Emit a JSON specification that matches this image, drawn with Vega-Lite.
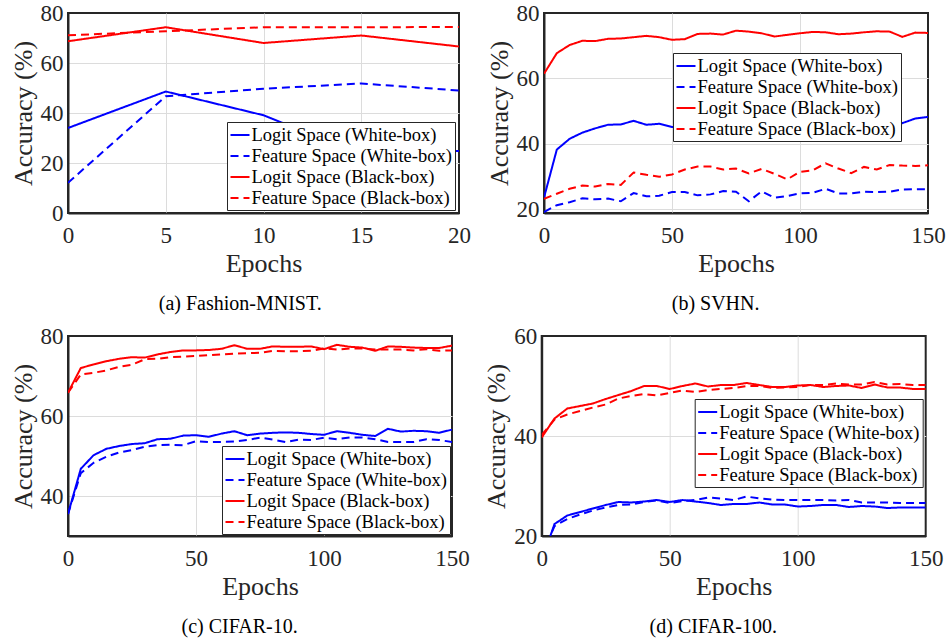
{
  "$schema": "https://vega.github.io/schema/vega-lite/v6.json",
  "background": "white",
  "padding": {"left": 9, "top": 1, "right": 0, "bottom": 0},
  "config": {
    "font": "'Liberation Serif', 'Times New Roman', Times, serif",
    "view": {"stroke": "#262626", "strokeWidth": 2},
    "axis": {
      "labelFont": "'Liberation Serif', 'Times New Roman', Times, serif", "titleFont": "'Liberation Serif', 'Times New Roman', Times, serif",
      "labelFontSize": 23, "titleFontSize": 26, "titleFontWeight": "normal",
      "labelColor": "#262626", "titleColor": "#262626",
      "ticks": false, "tickSize": 0, "domain": true, "domainColor": "#262626", "domainWidth": 2,
      "grid": true, "gridColor": "#dcdcdc", "gridWidth": 1,
      "labelFlush": false, "labelOverlap": false, "labelBound": false
    },
    "axisX": {"labelPadding": 11, "titlePadding": 3},
    "axisY": {"labelPadding": 5, "titlePadding": 4},
    "legend": {
      "orient": "none", "labelFont": "'Liberation Serif', 'Times New Roman', Times, serif", "labelFontSize": 18.5,
      "labelColor": "#000000", "labelLimit": 400, "symbolType": "stroke",
      "symbolSize": 361, "symbolStrokeWidth": 2, "strokeColor": "#262626",
      "strokeWidth": 1, "fillColor": "white", "padding": 2.5, "rowPadding": 1,
      "labelOffset": 1
    },
    "title": {"font": "'Liberation Serif', 'Times New Roman', Times, serif", "fontSize": 20, "fontWeight": "normal", "color": "#000000", "orient": "bottom", "anchor": "middle", "frame": "bounds", "offset": 18}
  },
  "datasets": {
    "a": [
      {"e":0,"v":34,"s":"LW"},{"e":5,"v":48.6,"s":"LW"},{"e":10,"v":39.1,"s":"LW"},{"e":15,"v":23.5,"s":"LW"},{"e":20,"v":24.8,"s":"LW"},
      {"e":0,"v":12.1,"s":"FW"},{"e":5,"v":46.7,"s":"FW"},{"e":10,"v":49.7,"s":"FW"},{"e":15,"v":51.8,"s":"FW"},{"e":20,"v":49,"s":"FW"},
      {"e":0,"v":68.7,"s":"LB"},{"e":5,"v":74.3,"s":"LB"},{"e":10,"v":68,"s":"LB"},{"e":15,"v":71,"s":"LB"},{"e":20,"v":66.6,"s":"LB"},
      {"e":0,"v":71.1,"s":"FB"},{"e":5,"v":72.7,"s":"FB"},{"e":10,"v":74.3,"s":"FB"},{"e":15,"v":74.3,"s":"FB"},{"e":20,"v":74.4,"s":"FB"}
    ],
    "b": [
      {"e":0,"v":23.5,"s":"LW"},{"e":5,"v":38.2,"s":"LW"},{"e":10,"v":41.5,"s":"LW"},{"e":15,"v":43.4,"s":"LW"},{"e":20,"v":44.7,"s":"LW"},{"e":25,"v":45.8,"s":"LW"},{"e":30,"v":45.9,"s":"LW"},{"e":35,"v":47,"s":"LW"},{"e":40,"v":45.8,"s":"LW"},{"e":45,"v":46.1,"s":"LW"},{"e":50,"v":45.1,"s":"LW"},{"e":55,"v":45.5,"s":"LW"},{"e":60,"v":46,"s":"LW"},{"e":65,"v":46.3,"s":"LW"},{"e":70,"v":46.5,"s":"LW"},{"e":75,"v":46.8,"s":"LW"},{"e":80,"v":46.4,"s":"LW"},{"e":85,"v":46.6,"s":"LW"},{"e":90,"v":46.2,"s":"LW"},{"e":95,"v":46.5,"s":"LW"},{"e":100,"v":46.9,"s":"LW"},{"e":105,"v":47,"s":"LW"},{"e":110,"v":46.7,"s":"LW"},{"e":115,"v":46.9,"s":"LW"},{"e":120,"v":47.2,"s":"LW"},{"e":125,"v":47,"s":"LW"},{"e":130,"v":47.3,"s":"LW"},{"e":135,"v":47.5,"s":"LW"},{"e":140,"v":46.3,"s":"LW"},{"e":145,"v":47.7,"s":"LW"},{"e":150,"v":48.2,"s":"LW"},
      {"e":0,"v":19.1,"s":"FW"},{"e":5,"v":21.2,"s":"FW"},{"e":10,"v":22.1,"s":"FW"},{"e":15,"v":23.3,"s":"FW"},{"e":20,"v":23,"s":"FW"},{"e":25,"v":23.2,"s":"FW"},{"e":30,"v":22.4,"s":"FW"},{"e":35,"v":24.9,"s":"FW"},{"e":40,"v":23.9,"s":"FW"},{"e":45,"v":24.1,"s":"FW"},{"e":50,"v":25.2,"s":"FW"},{"e":55,"v":25.2,"s":"FW"},{"e":60,"v":24.2,"s":"FW"},{"e":65,"v":24.5,"s":"FW"},{"e":70,"v":25.5,"s":"FW"},{"e":75,"v":25.3,"s":"FW"},{"e":80,"v":22.4,"s":"FW"},{"e":85,"v":25.4,"s":"FW"},{"e":90,"v":23.5,"s":"FW"},{"e":95,"v":24,"s":"FW"},{"e":100,"v":24.8,"s":"FW"},{"e":105,"v":25,"s":"FW"},{"e":110,"v":26.2,"s":"FW"},{"e":115,"v":24.8,"s":"FW"},{"e":120,"v":24.8,"s":"FW"},{"e":125,"v":25.3,"s":"FW"},{"e":130,"v":25.2,"s":"FW"},{"e":135,"v":25.3,"s":"FW"},{"e":140,"v":26,"s":"FW"},{"e":145,"v":26.1,"s":"FW"},{"e":150,"v":26.1,"s":"FW"},
      {"e":0,"v":61.4,"s":"LB"},{"e":5,"v":67.7,"s":"LB"},{"e":10,"v":70.2,"s":"LB"},{"e":15,"v":71.5,"s":"LB"},{"e":20,"v":71.4,"s":"LB"},{"e":25,"v":72.1,"s":"LB"},{"e":30,"v":72.2,"s":"LB"},{"e":35,"v":72.6,"s":"LB"},{"e":40,"v":73,"s":"LB"},{"e":45,"v":72.6,"s":"LB"},{"e":50,"v":71.8,"s":"LB"},{"e":55,"v":72,"s":"LB"},{"e":60,"v":73.6,"s":"LB"},{"e":65,"v":73.7,"s":"LB"},{"e":70,"v":73.4,"s":"LB"},{"e":75,"v":74.6,"s":"LB"},{"e":80,"v":74.3,"s":"LB"},{"e":85,"v":73.8,"s":"LB"},{"e":90,"v":72.8,"s":"LB"},{"e":95,"v":73.3,"s":"LB"},{"e":100,"v":73.8,"s":"LB"},{"e":105,"v":74.2,"s":"LB"},{"e":110,"v":74.1,"s":"LB"},{"e":115,"v":73.5,"s":"LB"},{"e":120,"v":73.7,"s":"LB"},{"e":125,"v":74.1,"s":"LB"},{"e":130,"v":74.4,"s":"LB"},{"e":135,"v":74.3,"s":"LB"},{"e":140,"v":72.7,"s":"LB"},{"e":145,"v":74,"s":"LB"},{"e":150,"v":73.9,"s":"LB"},
      {"e":0,"v":23.1,"s":"FB"},{"e":5,"v":24.7,"s":"FB"},{"e":10,"v":26.2,"s":"FB"},{"e":15,"v":27.2,"s":"FB"},{"e":20,"v":26.9,"s":"FB"},{"e":25,"v":27.7,"s":"FB"},{"e":30,"v":27.4,"s":"FB"},{"e":35,"v":31.2,"s":"FB"},{"e":40,"v":30.5,"s":"FB"},{"e":45,"v":29.9,"s":"FB"},{"e":50,"v":30.6,"s":"FB"},{"e":55,"v":32.1,"s":"FB"},{"e":60,"v":33,"s":"FB"},{"e":65,"v":33,"s":"FB"},{"e":70,"v":32.1,"s":"FB"},{"e":75,"v":32.4,"s":"FB"},{"e":80,"v":30.9,"s":"FB"},{"e":85,"v":32.3,"s":"FB"},{"e":90,"v":30.8,"s":"FB"},{"e":95,"v":29.1,"s":"FB"},{"e":100,"v":31.4,"s":"FB"},{"e":105,"v":31.9,"s":"FB"},{"e":110,"v":34,"s":"FB"},{"e":115,"v":32.4,"s":"FB"},{"e":120,"v":31,"s":"FB"},{"e":125,"v":32.9,"s":"FB"},{"e":130,"v":32.1,"s":"FB"},{"e":135,"v":33.5,"s":"FB"},{"e":140,"v":33.3,"s":"FB"},{"e":145,"v":33.2,"s":"FB"},{"e":150,"v":33.4,"s":"FB"}
    ],
    "c": [
      {"e":0,"v":35.5,"s":"LW"},{"e":5,"v":46.8,"s":"LW"},{"e":10,"v":50.2,"s":"LW"},{"e":15,"v":51.8,"s":"LW"},{"e":20,"v":52.5,"s":"LW"},{"e":25,"v":53,"s":"LW"},{"e":30,"v":53.2,"s":"LW"},{"e":35,"v":54.2,"s":"LW"},{"e":40,"v":54.3,"s":"LW"},{"e":45,"v":55.1,"s":"LW"},{"e":50,"v":55.2,"s":"LW"},{"e":55,"v":54.8,"s":"LW"},{"e":60,"v":55.6,"s":"LW"},{"e":65,"v":56.2,"s":"LW"},{"e":70,"v":55.2,"s":"LW"},{"e":75,"v":55.6,"s":"LW"},{"e":80,"v":55.8,"s":"LW"},{"e":85,"v":55.9,"s":"LW"},{"e":90,"v":55.8,"s":"LW"},{"e":95,"v":55.5,"s":"LW"},{"e":100,"v":55.3,"s":"LW"},{"e":105,"v":56.2,"s":"LW"},{"e":110,"v":55.8,"s":"LW"},{"e":115,"v":55.3,"s":"LW"},{"e":120,"v":55,"s":"LW"},{"e":125,"v":56.8,"s":"LW"},{"e":130,"v":56.1,"s":"LW"},{"e":135,"v":56.3,"s":"LW"},{"e":140,"v":56.2,"s":"LW"},{"e":145,"v":55.8,"s":"LW"},{"e":150,"v":56.6,"s":"LW"},
      {"e":0,"v":35.5,"s":"FW"},{"e":5,"v":45.7,"s":"FW"},{"e":10,"v":48.3,"s":"FW"},{"e":15,"v":49.8,"s":"FW"},{"e":20,"v":50.9,"s":"FW"},{"e":25,"v":51.5,"s":"FW"},{"e":30,"v":52.3,"s":"FW"},{"e":35,"v":52.7,"s":"FW"},{"e":40,"v":52.8,"s":"FW"},{"e":45,"v":52.7,"s":"FW"},{"e":50,"v":53.7,"s":"FW"},{"e":55,"v":53.5,"s":"FW"},{"e":60,"v":53.5,"s":"FW"},{"e":65,"v":53.6,"s":"FW"},{"e":70,"v":54,"s":"FW"},{"e":75,"v":54.6,"s":"FW"},{"e":80,"v":54.1,"s":"FW"},{"e":85,"v":53.5,"s":"FW"},{"e":90,"v":54.1,"s":"FW"},{"e":95,"v":54,"s":"FW"},{"e":100,"v":54.6,"s":"FW"},{"e":105,"v":54.2,"s":"FW"},{"e":110,"v":54.6,"s":"FW"},{"e":115,"v":54.6,"s":"FW"},{"e":120,"v":54.2,"s":"FW"},{"e":125,"v":53.5,"s":"FW"},{"e":130,"v":53.5,"s":"FW"},{"e":135,"v":53.5,"s":"FW"},{"e":140,"v":54.2,"s":"FW"},{"e":145,"v":54,"s":"FW"},{"e":150,"v":53.5,"s":"FW"},
      {"e":0,"v":65.8,"s":"LB"},{"e":5,"v":72,"s":"LB"},{"e":10,"v":72.9,"s":"LB"},{"e":15,"v":73.7,"s":"LB"},{"e":20,"v":74.3,"s":"LB"},{"e":25,"v":74.7,"s":"LB"},{"e":30,"v":74.6,"s":"LB"},{"e":35,"v":75.4,"s":"LB"},{"e":40,"v":76,"s":"LB"},{"e":45,"v":76.4,"s":"LB"},{"e":50,"v":76.4,"s":"LB"},{"e":55,"v":76.5,"s":"LB"},{"e":60,"v":76.8,"s":"LB"},{"e":65,"v":77.7,"s":"LB"},{"e":70,"v":76.8,"s":"LB"},{"e":75,"v":76.8,"s":"LB"},{"e":80,"v":77.4,"s":"LB"},{"e":85,"v":77.3,"s":"LB"},{"e":90,"v":77.3,"s":"LB"},{"e":95,"v":77.4,"s":"LB"},{"e":100,"v":76.7,"s":"LB"},{"e":105,"v":77.8,"s":"LB"},{"e":110,"v":77.3,"s":"LB"},{"e":115,"v":77.1,"s":"LB"},{"e":120,"v":76.3,"s":"LB"},{"e":125,"v":77.4,"s":"LB"},{"e":130,"v":77.3,"s":"LB"},{"e":135,"v":77.1,"s":"LB"},{"e":140,"v":77,"s":"LB"},{"e":145,"v":77,"s":"LB"},{"e":150,"v":77.6,"s":"LB"},
      {"e":0,"v":65.8,"s":"FB"},{"e":5,"v":70.4,"s":"FB"},{"e":10,"v":70.8,"s":"FB"},{"e":15,"v":71.4,"s":"FB"},{"e":20,"v":72.3,"s":"FB"},{"e":25,"v":72.8,"s":"FB"},{"e":30,"v":74.2,"s":"FB"},{"e":35,"v":74.3,"s":"FB"},{"e":40,"v":74.7,"s":"FB"},{"e":45,"v":74.8,"s":"FB"},{"e":50,"v":75,"s":"FB"},{"e":55,"v":75.2,"s":"FB"},{"e":60,"v":75.4,"s":"FB"},{"e":65,"v":75.6,"s":"FB"},{"e":70,"v":75.7,"s":"FB"},{"e":75,"v":75.8,"s":"FB"},{"e":80,"v":76.3,"s":"FB"},{"e":85,"v":76.2,"s":"FB"},{"e":90,"v":76.2,"s":"FB"},{"e":95,"v":76.3,"s":"FB"},{"e":100,"v":76.9,"s":"FB"},{"e":105,"v":76.6,"s":"FB"},{"e":110,"v":76.9,"s":"FB"},{"e":115,"v":76.9,"s":"FB"},{"e":120,"v":76.6,"s":"FB"},{"e":125,"v":76.6,"s":"FB"},{"e":130,"v":76.6,"s":"FB"},{"e":135,"v":76.4,"s":"FB"},{"e":140,"v":76.7,"s":"FB"},{"e":145,"v":76.3,"s":"FB"},{"e":150,"v":76.4,"s":"FB"}
    ],
    "d": [
      {"e":0,"v":15,"s":"LW"},{"e":5,"v":22.4,"s":"LW"},{"e":10,"v":24.1,"s":"LW"},{"e":15,"v":24.8,"s":"LW"},{"e":20,"v":25.5,"s":"LW"},{"e":25,"v":26.2,"s":"LW"},{"e":30,"v":26.8,"s":"LW"},{"e":35,"v":26.7,"s":"LW"},{"e":40,"v":26.9,"s":"LW"},{"e":45,"v":27.2,"s":"LW"},{"e":50,"v":26.8,"s":"LW"},{"e":55,"v":27.2,"s":"LW"},{"e":60,"v":26.9,"s":"LW"},{"e":65,"v":26.6,"s":"LW"},{"e":70,"v":26.2,"s":"LW"},{"e":75,"v":26.4,"s":"LW"},{"e":80,"v":26.4,"s":"LW"},{"e":85,"v":26.7,"s":"LW"},{"e":90,"v":26.3,"s":"LW"},{"e":95,"v":26.3,"s":"LW"},{"e":100,"v":25.9,"s":"LW"},{"e":105,"v":26,"s":"LW"},{"e":110,"v":26.2,"s":"LW"},{"e":115,"v":26.2,"s":"LW"},{"e":120,"v":25.8,"s":"LW"},{"e":125,"v":26,"s":"LW"},{"e":130,"v":25.9,"s":"LW"},{"e":135,"v":25.6,"s":"LW"},{"e":140,"v":25.7,"s":"LW"},{"e":145,"v":25.7,"s":"LW"},{"e":150,"v":25.7,"s":"LW"},
      {"e":0,"v":16,"s":"FW"},{"e":5,"v":22,"s":"FW"},{"e":10,"v":23.4,"s":"FW"},{"e":15,"v":24.3,"s":"FW"},{"e":20,"v":25.1,"s":"FW"},{"e":25,"v":25.7,"s":"FW"},{"e":30,"v":26.2,"s":"FW"},{"e":35,"v":26.3,"s":"FW"},{"e":40,"v":26.8,"s":"FW"},{"e":45,"v":27.1,"s":"FW"},{"e":50,"v":26.6,"s":"FW"},{"e":55,"v":27,"s":"FW"},{"e":60,"v":27.2,"s":"FW"},{"e":65,"v":27.7,"s":"FW"},{"e":70,"v":27.5,"s":"FW"},{"e":75,"v":27.2,"s":"FW"},{"e":80,"v":27.9,"s":"FW"},{"e":85,"v":27.5,"s":"FW"},{"e":90,"v":27.3,"s":"FW"},{"e":95,"v":27.2,"s":"FW"},{"e":100,"v":27.2,"s":"FW"},{"e":105,"v":27.2,"s":"FW"},{"e":110,"v":27.2,"s":"FW"},{"e":115,"v":27.1,"s":"FW"},{"e":120,"v":27.2,"s":"FW"},{"e":125,"v":26.7,"s":"FW"},{"e":130,"v":26.7,"s":"FW"},{"e":135,"v":26.7,"s":"FW"},{"e":140,"v":26.6,"s":"FW"},{"e":145,"v":26.6,"s":"FW"},{"e":150,"v":26.6,"s":"FW"},
      {"e":0,"v":39.7,"s":"LB"},{"e":5,"v":43.5,"s":"LB"},{"e":10,"v":45.5,"s":"LB"},{"e":15,"v":46,"s":"LB"},{"e":20,"v":46.5,"s":"LB"},{"e":25,"v":47.4,"s":"LB"},{"e":30,"v":48.2,"s":"LB"},{"e":35,"v":49,"s":"LB"},{"e":40,"v":50,"s":"LB"},{"e":45,"v":50,"s":"LB"},{"e":50,"v":49.4,"s":"LB"},{"e":55,"v":50,"s":"LB"},{"e":60,"v":50.5,"s":"LB"},{"e":65,"v":49.9,"s":"LB"},{"e":70,"v":50.2,"s":"LB"},{"e":75,"v":50.2,"s":"LB"},{"e":80,"v":50.6,"s":"LB"},{"e":85,"v":50.2,"s":"LB"},{"e":90,"v":49.8,"s":"LB"},{"e":95,"v":49.8,"s":"LB"},{"e":100,"v":50.1,"s":"LB"},{"e":105,"v":50.2,"s":"LB"},{"e":110,"v":49.8,"s":"LB"},{"e":115,"v":50,"s":"LB"},{"e":120,"v":50.1,"s":"LB"},{"e":125,"v":49.6,"s":"LB"},{"e":130,"v":50.3,"s":"LB"},{"e":135,"v":49.7,"s":"LB"},{"e":140,"v":49.7,"s":"LB"},{"e":145,"v":49.4,"s":"LB"},{"e":150,"v":49.4,"s":"LB"},
      {"e":0,"v":40.2,"s":"FB"},{"e":5,"v":43.3,"s":"FB"},{"e":10,"v":44.3,"s":"FB"},{"e":15,"v":45,"s":"FB"},{"e":20,"v":45.7,"s":"FB"},{"e":25,"v":46.3,"s":"FB"},{"e":30,"v":47.5,"s":"FB"},{"e":35,"v":48,"s":"FB"},{"e":40,"v":48.4,"s":"FB"},{"e":45,"v":48.1,"s":"FB"},{"e":50,"v":48.6,"s":"FB"},{"e":55,"v":49.1,"s":"FB"},{"e":60,"v":48.8,"s":"FB"},{"e":65,"v":49.2,"s":"FB"},{"e":70,"v":49.4,"s":"FB"},{"e":75,"v":49.6,"s":"FB"},{"e":80,"v":50,"s":"FB"},{"e":85,"v":50,"s":"FB"},{"e":90,"v":49.6,"s":"FB"},{"e":95,"v":49.7,"s":"FB"},{"e":100,"v":49.8,"s":"FB"},{"e":105,"v":50.2,"s":"FB"},{"e":110,"v":50.2,"s":"FB"},{"e":115,"v":50.5,"s":"FB"},{"e":120,"v":50.3,"s":"FB"},{"e":125,"v":50.3,"s":"FB"},{"e":130,"v":50.8,"s":"FB"},{"e":135,"v":50.3,"s":"FB"},{"e":140,"v":50.4,"s":"FB"},{"e":145,"v":50.2,"s":"FB"},{"e":150,"v":50.2,"s":"FB"}
    ]
  },
  "spacing": 9,
  "resolve": {"scale": {"x": "independent", "y": "independent", "color": "independent", "strokeDash": "independent"}, "legend": {"color": "independent", "strokeDash": "independent"}, "axis": {"x": "independent", "y": "independent"}},
  "vconcat": [
    {
      "spacing": 13,
      "resolve": {"scale": {"x": "independent", "y": "independent", "color": "independent", "strokeDash": "independent"}, "legend": {"color": "independent", "strokeDash": "independent"}, "axis": {"x": "independent", "y": "independent"}},
      "hconcat": [
        {
          "width": 391, "height": 200,
          "title": {"text": "(a) Fashion-MNIST."},
          "data": {"name": "a"},
          "mark": {"type": "line", "strokeWidth": 2, "clip": true},
          "encoding": {
            "x": {"field": "e", "type": "quantitative", "scale": {"domain": [0, 20], "nice": false, "zero": false}, "axis": {"values": [0, 5, 10, 15, 20], "title": "Epochs", "gridOpacity": {"condition": {"test": "datum.value <= 0 || datum.value >= 20", "value": 0}, "value": 1}}},
            "y": {"field": "v", "type": "quantitative", "scale": {"domain": [0, 80], "nice": false, "zero": false}, "axis": {"values": [0, 20, 40, 60, 80], "title": "Accuracy (%)", "gridOpacity": {"condition": {"test": "datum.value <= 0 || datum.value >= 80", "value": 0}, "value": 1}}},
            "color": {"field": "s", "type": "nominal", "scale": {"domain": ["LW", "FW", "LB", "FB"], "range": ["#0000ff", "#0000ff", "#ff0000", "#ff0000"]}, "legend": {"title": null, "legendX": 159, "legendY": 109, "labelExpr": "{'LW':'Logit Space (White-box)','FW':'Feature Space (White-box)','LB':'Logit Space (Black-box)','FB':'Feature Space (Black-box)'}[datum.label]"}},
            "strokeDash": {"field": "s", "type": "nominal", "scale": {"domain": ["LW", "FW", "LB", "FB"], "range": [[1, 0], [8, 5], [1, 0], [8, 5]]}, "legend": {"title": null, "legendX": 159, "legendY": 109, "labelExpr": "{'LW':'Logit Space (White-box)','FW':'Feature Space (White-box)','LB':'Logit Space (Black-box)','FB':'Feature Space (Black-box)'}[datum.label]"}}
          }
        },
        {
          "width": 384, "height": 200,
          "title": {"text": "(b) SVHN."},
          "data": {"name": "b"},
          "mark": {"type": "line", "strokeWidth": 2, "clip": true},
          "encoding": {
            "x": {"field": "e", "type": "quantitative", "scale": {"domain": [0, 150], "nice": false, "zero": false}, "axis": {"values": [0, 50, 100, 150], "title": "Epochs", "gridOpacity": {"condition": {"test": "datum.value <= 0 || datum.value >= 150", "value": 0}, "value": 1}}},
            "y": {"field": "v", "type": "quantitative", "scale": {"domain": [18.8, 80], "nice": false, "zero": false}, "axis": {"values": [20, 40, 60, 80], "title": "Accuracy (%)", "gridOpacity": {"condition": {"test": "datum.value >= 80", "value": 0}, "value": 1}}},
            "color": {"field": "s", "type": "nominal", "scale": {"domain": ["LW", "FW", "LB", "FB"], "range": ["#0000ff", "#0000ff", "#ff0000", "#ff0000"]}, "legend": {"title": null, "legendX": 129, "legendY": 40, "labelExpr": "{'LW':'Logit Space (White-box)','FW':'Feature Space (White-box)','LB':'Logit Space (Black-box)','FB':'Feature Space (Black-box)'}[datum.label]"}},
            "strokeDash": {"field": "s", "type": "nominal", "scale": {"domain": ["LW", "FW", "LB", "FB"], "range": [[1, 0], [8, 5], [1, 0], [8, 5]]}, "legend": {"title": null, "legendX": 129, "legendY": 40, "labelExpr": "{'LW':'Logit Space (White-box)','FW':'Feature Space (White-box)','LB':'Logit Space (Black-box)','FB':'Feature Space (Black-box)'}[datum.label]"}}
          }
        }
      ]
    },
    {
      "spacing": 11.7,
      "resolve": {"scale": {"x": "independent", "y": "independent", "color": "independent", "strokeDash": "independent"}, "legend": {"color": "independent", "strokeDash": "independent"}, "axis": {"x": "independent", "y": "independent"}},
      "hconcat": [
        {
          "width": 384, "height": 200,
          "title": {"text": "(c) CIFAR-10."},
          "data": {"name": "c"},
          "mark": {"type": "line", "strokeWidth": 2, "clip": true},
          "encoding": {
            "x": {"field": "e", "type": "quantitative", "scale": {"domain": [0, 150], "nice": false, "zero": false}, "axis": {"values": [0, 50, 100, 150], "title": "Epochs", "gridOpacity": {"condition": {"test": "datum.value <= 0 || datum.value >= 150", "value": 0}, "value": 1}}},
            "y": {"field": "v", "type": "quantitative", "scale": {"domain": [30, 80], "nice": false, "zero": false}, "axis": {"values": [40, 60, 80], "title": "Accuracy (%)", "gridOpacity": {"condition": {"test": "datum.value >= 80", "value": 0}, "value": 1}}},
            "color": {"field": "s", "type": "nominal", "scale": {"domain": ["LW", "FW", "LB", "FB"], "range": ["#0000ff", "#0000ff", "#ff0000", "#ff0000"]}, "legend": {"title": null, "legendX": 154, "legendY": 110, "labelExpr": "{'LW':'Logit Space (White-box)','FW':'Feature Space (White-box)','LB':'Logit Space (Black-box)','FB':'Feature Space (Black-box)'}[datum.label]"}},
            "strokeDash": {"field": "s", "type": "nominal", "scale": {"domain": ["LW", "FW", "LB", "FB"], "range": [[1, 0], [8, 5], [1, 0], [8, 5]]}, "legend": {"title": null, "legendX": 154, "legendY": 110, "labelExpr": "{'LW':'Logit Space (White-box)','FW':'Feature Space (White-box)','LB':'Logit Space (Black-box)','FB':'Feature Space (Black-box)'}[datum.label]"}}
          }
        },
        {
          "width": 384, "height": 200,
          "title": {"text": "(d) CIFAR-100."},
          "data": {"name": "d"},
          "mark": {"type": "line", "strokeWidth": 2, "clip": true},
          "encoding": {
            "x": {"field": "e", "type": "quantitative", "scale": {"domain": [0, 150], "nice": false, "zero": false}, "axis": {"values": [0, 50, 100, 150], "title": "Epochs", "gridOpacity": {"condition": {"test": "datum.value <= 0 || datum.value >= 150", "value": 0}, "value": 1}}},
            "y": {"field": "v", "type": "quantitative", "scale": {"domain": [20, 60], "nice": false, "zero": false}, "axis": {"values": [20, 40, 60], "title": "Accuracy (%)", "gridOpacity": {"condition": {"test": "datum.value <= 20 || datum.value >= 60", "value": 0}, "value": 1}}},
            "color": {"field": "s", "type": "nominal", "scale": {"domain": ["LW", "FW", "LB", "FB"], "range": ["#0000ff", "#0000ff", "#ff0000", "#ff0000"]}, "legend": {"title": null, "legendX": 153, "legendY": 63, "labelExpr": "{'LW':'Logit Space (White-box)','FW':'Feature Space (White-box)','LB':'Logit Space (Black-box)','FB':'Feature Space (Black-box)'}[datum.label]"}},
            "strokeDash": {"field": "s", "type": "nominal", "scale": {"domain": ["LW", "FW", "LB", "FB"], "range": [[1, 0], [8, 5], [1, 0], [8, 5]]}, "legend": {"title": null, "legendX": 153, "legendY": 63, "labelExpr": "{'LW':'Logit Space (White-box)','FW':'Feature Space (White-box)','LB':'Logit Space (Black-box)','FB':'Feature Space (Black-box)'}[datum.label]"}}
          }
        }
      ]
    }
  ]
}
